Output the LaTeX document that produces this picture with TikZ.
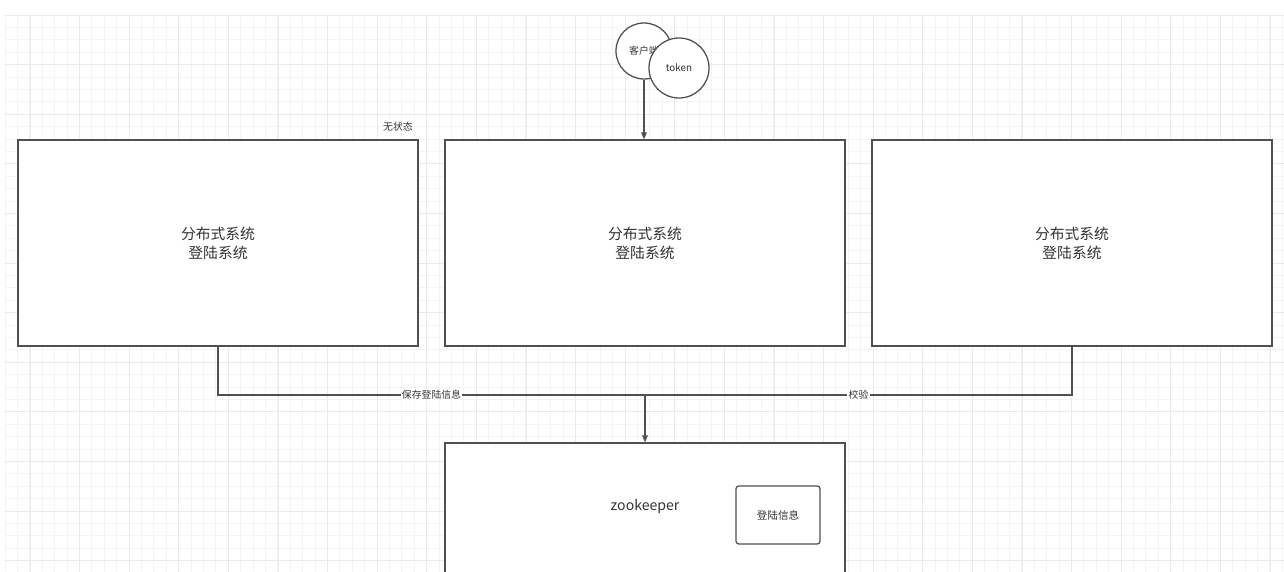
\documentclass[tikz,border=0pt]{standalone}
\usepackage{fontspec}
\newfontfamily\cjk{Noto Sans CJK SC}
\usetikzlibrary{positioning,arrows.meta}
\definecolor{linegray}{HTML}{505050}
\definecolor{textgray}{HTML}{333333}
\definecolor{gridminor}{HTML}{F4F4F4}
\definecolor{gridmajor}{HTML}{EAEAEA}

\begin{document}
\begin{tikzpicture}[x=0.025cm,y=-0.025cm,
    sysbox/.style={draw=linegray,line width=0.9pt,fill=white,minimum width=10cm,minimum height=5.15cm,
      align=center,text=textgray,font=\cjk\fontsize{10.5}{13.5}\selectfont},
    circ/.style={circle,draw=linegray,line width=0.9pt,fill=white,inner sep=0pt,text=textgray,
      font=\cjk\fontsize{7}{8}\selectfont},
    conn/.style={draw=linegray,line width=0.9pt},
    arrowtip/.style={-{Triangle[length=5pt,width=4pt]}},
    lbl/.style={fill=white,inner sep=1pt,text=textgray,font=\cjk\fontsize{7}{8}\selectfont}]
    \useasboundingbox (0,0) rectangle (1284,572);
    \clip (0,0) rectangle (1284,572);
    \fill[white] (0,0) rectangle (1284,572);
    % grid
    \foreach \gx in {0,...,103}
        \draw[gridminor,line width=0.5pt] ({5+12.4*\gx},15) -- ({5+12.4*\gx},572);
    \foreach \gy in {0,...,45}
        \draw[gridminor,line width=0.5pt] (5,{15+12.4*\gy}) -- (1284,{15+12.4*\gy});
    \foreach \gx in {0,...,25}
        \draw[gridmajor,line width=0.6pt] ({30+49.6*\gx},15) -- ({30+49.6*\gx},572);
    \foreach \gy in {0,...,11}
        \draw[gridmajor,line width=0.6pt] (5,{15+49.6*\gy}) -- (1284,{15+49.6*\gy});

    % login systems
    \node[sysbox] (left) at (218,243) {分布式系统\\登陆系统};
    \node[sysbox] (mid) at (645,243) {分布式系统\\登陆系统};
    \node[sysbox] (right) at (1072,243) {分布式系统\\登陆系统};
    \node[text=textgray,font=\cjk\fontsize{7}{8}\selectfont] (stateless) at (398,127) {无状态};

    % client
    \node[circ,minimum size=1.4cm] (client) at (644,51) {客户端};
    \node[circ,minimum size=1.5cm] (token) at (679,68) {token};
    \draw[conn,arrowtip] (client.south) -- (client.south |- mid.north);

    % zookeeper
    \node[sysbox,minimum height=5cm] (zk) at (645,543) {};
    \node[text=textgray,font=\cjk\fontsize{10}{12}\selectfont] (zktext) at (645,507) {zookeeper};
    \node[draw=linegray,line width=0.9pt,rounded corners=2pt,minimum width=2.1cm,minimum height=1.45cm,
      text=textgray,font=\cjk\fontsize{7.5}{9}\selectfont] (info) at (778,515) {登陆信息};

    % connectors
    \coordinate (join) at (645,395);
    \draw[conn] (left.south) |- node[lbl,pos=0.75] (save) {保存登陆信息} (join);
    \draw[conn] (right.south) |- node[lbl,pos=0.75] (check) {校验} (join);
    \draw[conn,arrowtip] (join) -- (zk.north);
\end{tikzpicture}
\end{document}
